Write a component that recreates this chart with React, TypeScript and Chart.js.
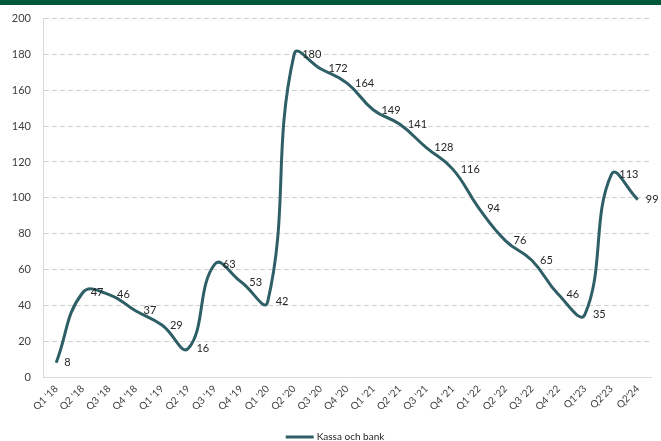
import React, { useEffect, useRef } from "react";
import { Chart, registerables } from "chart.js";

Chart.register(...registerables);

const categories = [
  "Q1 '18", "Q2 '18", "Q3 '18", "Q4 '18",
  "Q1 '19", "Q2 '19", "Q3 '19", "Q4 '19",
  "Q1 '20", "Q2 '20", "Q3 '20", "Q4 '20",
  "Q1 '21", "Q2 '21", "Q3 '21", "Q4 '21",
  "Q1 '22", "Q2 '22", "Q3 '22", "Q4 '22",
  "Q1'23", "Q2'23", "Q2'24",
];

const kassaOchBank = [
  8, 47, 46, 37, 29, 16, 63, 53, 42, 180, 172, 164,
  149, 141, 128, 116, 94, 76, 65, 46, 35, 113, 99,
];

const seriesName = "Kassa och bank";
const yTicks = [0, 20, 40, 60, 80, 100, 120, 140, 160, 180, 200];

const FONT = "Lato, 'Open Sans', sans-serif";
const LINE_COLOR = "#2f5f66";

const dataLabelPlugin = {
  id: "dataLabels",
  afterDatasetsDraw(chart: any) {
    const ctx = chart.ctx;
    const meta = chart.getDatasetMeta(0);
    ctx.save();
    ctx.font = `11px ${FONT}`;
    ctx.fillStyle = "#262626";
    ctx.textAlign = "left";
    ctx.textBaseline = "middle";
    meta.data.forEach((pt: any, i: number) => {
      ctx.fillText(String(kassaOchBank[i]), pt.x + 8, pt.y);
    });
    ctx.restore();
  },
};

const legendPlugin = {
  id: "customLegend",
  afterDraw(chart: any) {
    const ctx = chart.ctx;
    const ds = chart.data.datasets[0];
    ctx.save();
    ctx.font = `10px ${FONT}`;
    const text = String(ds.label);
    const tw = ctx.measureText(text).width;
    const lineW = 28;
    const gap = 3;
    const total = lineW + gap + tw;
    const cx = 335;
    const y = 437;
    const x0 = cx - total / 2;
    ctx.strokeStyle = ds.borderColor;
    ctx.lineWidth = 3;
    ctx.beginPath();
    ctx.moveTo(x0, y);
    ctx.lineTo(x0 + lineW, y);
    ctx.stroke();
    ctx.fillStyle = "#262626";
    ctx.textAlign = "left";
    ctx.textBaseline = "middle";
    ctx.fillText(text, x0 + lineW + gap, y);
    ctx.restore();
  },
};

export default function App() {
  const ref = useRef<HTMLCanvasElement | null>(null);

  useEffect(() => {
    if (!ref.current) return;
    const chart = new Chart(ref.current, {
      type: "line",
      data: {
        labels: categories,
        datasets: [
          {
            label: seriesName,
            data: kassaOchBank,
            borderColor: LINE_COLOR,
            backgroundColor: LINE_COLOR,
            borderWidth: 3,
            pointRadius: 0,
            tension: 0.45,
            fill: false,
          },
        ],
      },
      options: {
        animation: false,
        responsive: false,
        maintainAspectRatio: false,
        layout: { padding: { top: 12, right: 10, left: 0, bottom: 0 } },
        plugins: {
          legend: { display: false },
          tooltip: { enabled: false },
        },
        scales: {
          x: {
            offset: true,
            grid: { display: false, drawTicks: false },
            border: { display: true, color: "#d9d9d9", width: 1 },
            afterFit: (scale: any) => {
              scale.height = 64;
            },
            ticks: {
              font: { family: FONT, size: 10 },
              color: "#404040",
              maxRotation: 45,
              minRotation: 45,
              autoSkip: false,
              padding: 6,
            },
          },
          y: {
            min: 0,
            max: 200,
            afterBuildTicks: (scale: any) => {
              scale.ticks = yTicks.map((v) => ({ value: v }));
            },
            afterFit: (scale: any) => {
              scale.width = 43;
            },
            grid: {
              color: "#cfcfcf",
              lineWidth: 1,
              drawTicks: false,
            },
            border: { display: true, color: "#d9d9d9", width: 1, dash: [5, 3] },
            ticks: {
              font: { family: FONT, size: 11 },
              color: "#404040",
              padding: 12,
            },
          },
        },
      },
      plugins: [dataLabelPlugin, legendPlugin],
    });
    return () => chart.destroy();
  }, []);

  return (
    <div style={{ position: "absolute", left: 0, top: 0, width: 661, height: 441, background: "#fff" }}>
      <div style={{ position: "absolute", left: 0, top: 0, width: 661, height: 5, background: "#00573a" }} />
      <canvas ref={ref} width={661} height={441} style={{ display: "block", width: 661, height: 441 }} />
    </div>
  );
}
